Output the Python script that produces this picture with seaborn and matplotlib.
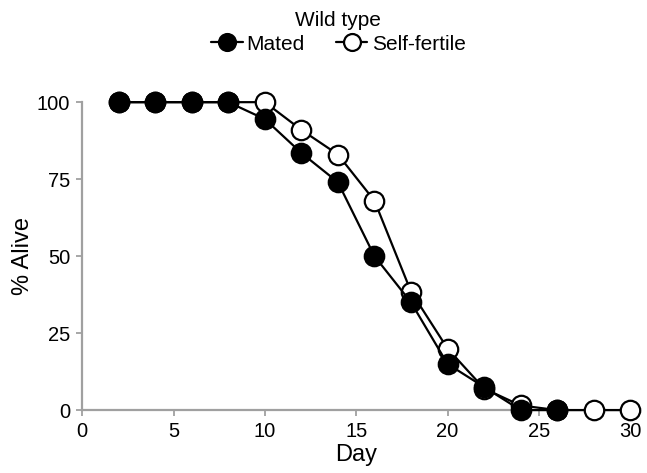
import matplotlib
matplotlib.use("Agg")
import matplotlib.pyplot as plt
import seaborn as sns
import pandas as pd

days = [2, 4, 6, 8, 10, 12, 14, 16, 18, 20, 22, 24, 26, 28, 30]
mated = [100, 100, 100, 100, 94.5, 83.5, 74, 50, 35, 15, 7.5, 0, 0, None, None]
self_fertile = [100, 100, 100, 100, 100, 91, 83, 68, 38.5, 20, 7, 1.5, 0, 0, 0]
x_ticks = [0, 5, 10, 15, 20, 25, 30]
y_ticks = [0, 25, 50, 75, 100]

sns.set_theme(style="white")
plt.rcParams['font.family'] = ['Liberation Sans', 'DejaVu Sans']
plt.rcParams['text.color'] = 'black'
plt.rcParams['axes.labelcolor'] = 'black'
plt.rcParams['xtick.color'] = 'black'
plt.rcParams['ytick.color'] = 'black'

df_m = pd.DataFrame({"Day": days, "Alive": mated}).dropna()
df_s = pd.DataFrame({"Day": days, "Alive": self_fertile}).dropna()

fig = plt.figure(figsize=(6.47, 4.73), dpi=100)
ax = fig.add_axes([0.127, 0.133, 0.847, 0.651])

sns.lineplot(data=df_s, x="Day", y="Alive", ax=ax, color="black", lw=1.6,
             marker="o", markersize=14, markerfacecolor="white",
             markeredgecolor="black", markeredgewidth=1.6, label="Self-fertile",
             clip_on=False, zorder=3)
sns.lineplot(data=df_m, x="Day", y="Alive", ax=ax, color="black", lw=1.6,
             marker="o", markersize=14, markerfacecolor="black",
             markeredgecolor="black", markeredgewidth=1.6, label="Mated",
             clip_on=False, zorder=4)

ax.set_xlim(0, 30)
ax.set_ylim(0, 100)
ax.set_xticks(x_ticks)
ax.set_yticks(y_ticks)
ax.set_xlabel("Day", fontsize=17, labelpad=2)
ax.set_ylabel("% Alive", fontsize=17, labelpad=2)
ax.tick_params(axis="both", labelsize=14.5, length=4.5, width=1.3,
               direction="out", bottom=True, left=True, pad=4,
               labelcolor="black")
ax.tick_params(axis="both", color="#a0a0a0")
for s in ["top", "right"]:
    ax.spines[s].set_visible(False)
for s in ["left", "bottom"]:
    ax.spines[s].set_color("#a0a0a0")
    ax.spines[s].set_linewidth(1.6)

handles, labels = ax.get_legend_handles_labels()
order = [labels.index("Mated"), labels.index("Self-fertile")]
ax.get_legend().remove()
leg = fig.legend([handles[i] for i in order], [labels[i] for i in order],
                 loc="upper center", bbox_to_anchor=(0.523, 1.0), ncol=2,
                 frameon=False, title="Wild type", fontsize=15, title_fontsize=15,
                 handlelength=1.5, handletextpad=0.2, columnspacing=1.5,
                 markerscale=0.87, borderaxespad=0.15, labelspacing=0.2)
leg.get_title().set_color("black")
for t in leg.get_texts():
    t.set_color("black")

fig.savefig("out.png", dpi=100)
